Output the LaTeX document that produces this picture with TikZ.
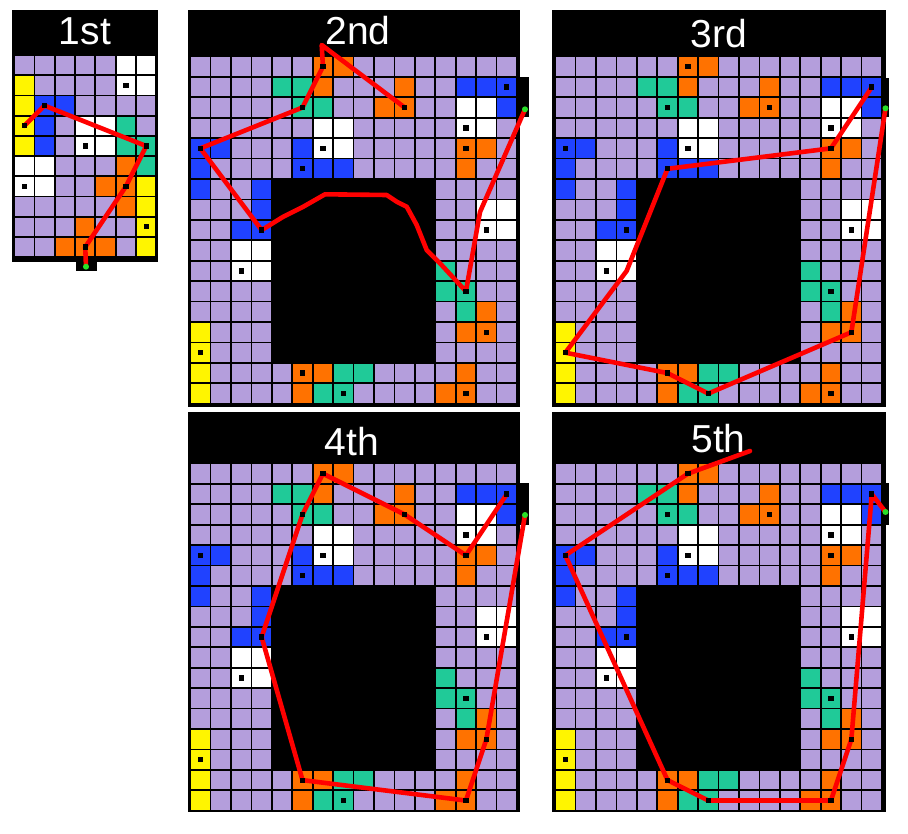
\documentclass[tikz,border=0pt]{standalone}
\usepackage{fontspec}
\setmainfont{Liberation Sans}
\definecolor{lav}{RGB}{180,158,220}
\definecolor{cblue}{RGB}{32,66,255}
\definecolor{cteal}{RGB}{32,202,152}
\definecolor{corange}{RGB}{255,114,0}
\definecolor{cyellow}{RGB}{255,245,0}
\definecolor{cgreen}{RGB}{40,222,40}
\definecolor{cred}{RGB}{255,0,0}
\tikzset{
  route/.style={draw=cred, line width=4.6pt, line join=round, line cap=round},
  dotmark/.style={rectangle, fill=black, inner sep=0pt, minimum size=5.2pt},
  gdot/.style={circle, fill=cgreen, inner sep=0pt, minimum size=6pt},
  ptitle/.style={text=white, font=\fontsize{39}{40}\selectfont, anchor=base, inner sep=0pt},
  panelbg/.style={fill=black},
}
\def\gp{20.43}
\def\gs{18.7}
\newcommand\biggrid[3]{%
\begin{scope}[shift={(#2,#3)}]
 \foreach \r in {1,2,3,4,5,6,16,17}{\foreach \c in {1,...,16}{
   \fill[lav] ({(\c-1)*\gp},{(\r-1)*\gp}) rectangle ++(\gs,\gs);
   \coordinate (#1-\c-\r) at ({(\c-1)*\gp+\gs/2},{(\r-1)*\gp+\gs/2});
 }}
 \foreach \r in {7,...,15}{\foreach \c in {1,2,3,4,13,14,15,16}{
   \fill[lav] ({(\c-1)*\gp},{(\r-1)*\gp}) rectangle ++(\gs,\gs);
   \coordinate (#1-\c-\r) at ({(\c-1)*\gp+\gs/2},{(\r-1)*\gp+\gs/2});
 }}
 \foreach \c/\r/\k in {
   7/1/corange,8/1/corange,7/2/corange,11/2/corange,10/3/corange,11/3/corange,
   14/5/corange,15/5/corange,14/6/corange,15/13/corange,14/14/corange,15/14/corange,
   6/16/corange,7/16/corange,14/16/corange,6/17/corange,13/17/corange,14/17/corange,
   5/2/cteal,6/2/cteal,6/3/cteal,7/3/cteal,13/11/cteal,13/12/cteal,14/12/cteal,
   14/13/cteal,8/16/cteal,9/16/cteal,7/17/cteal,8/17/cteal,
   14/2/cblue,15/2/cblue,16/2/cblue,16/3/cblue,1/5/cblue,2/5/cblue,6/5/cblue,
   1/6/cblue,6/6/cblue,7/6/cblue,8/6/cblue,1/7/cblue,4/7/cblue,4/8/cblue,3/9/cblue,4/9/cblue,
   14/3/white,15/3/white,7/4/white,8/4/white,14/4/white,15/4/white,7/5/white,8/5/white,
   15/8/white,16/8/white,15/9/white,16/9/white,3/10/white,4/10/white,3/11/white,4/11/white,
   1/14/cyellow,1/15/cyellow,1/16/cyellow,1/17/cyellow}
   \fill[\k] ({(\c-1)*\gp},{(\r-1)*\gp}) rectangle ++(\gs,\gs);
\end{scope}}
\newcommand\bigdots[1]{%
 \foreach \c/\r in {7/1,16/2,6/3,11/3,14/4,1/5,7/5,14/5,6/6,4/9,15/9,3/11,14/12,15/14,1/15,6/16,8/17,14/17}
   \node[dotmark] (#1d-\c-\r) at (#1-\c-\r) {};
}
\begin{document}
\begin{tikzpicture}[x=1pt,y=-1pt]
\useasboundingbox (0,0) rectangle (908,834);
% ---------- panel frames ----------
\fill[panelbg] (11.7,10) rectangle (158.3,261.7);
\fill[panelbg] (76,261) rectangle (97,271);
\fill[panelbg] (188.3,10) rectangle (520,407);
\fill[panelbg] (519,76.7) rectangle (529.3,117.3);
\fill[panelbg] (552.3,10) rectangle (886,406.5);
\fill[panelbg] (885,78) rectangle (888.5,117);
\fill[panelbg] (188.3,411.7) rectangle (520,812);
\fill[panelbg] (519,483) rectangle (529.3,525);
\fill[panelbg] (552.3,412.3) rectangle (886,812);
\fill[panelbg] (885,483) rectangle (888.5,525);
% ---------- titles ----------
\node[ptitle] (t1) at (85,45) {1st};
\node[ptitle] (t2) at (358,45) {2nd};
\node[ptitle] (t3) at (719,47.5) {3rd};
\node[ptitle] (t4) at (352,455) {4th};
\node[ptitle] (t5) at (718.5,452.5) {5th};
% ---------- panel 1 grid ----------
\begin{scope}[shift={(15,56)}]
 \foreach \r in {1,...,10}{\foreach \c in {1,...,7}{
   \fill[lav] ({(\c-1)*20.33},{(\r-1)*20.2}) rectangle ++(18.5,18.5);
   \coordinate (a-\c-\r) at ({(\c-1)*20.33+9.25},{(\r-1)*20.2+9.25});
 }}
 \foreach \c/\r/\k in {
   6/1/white,7/1/white,6/2/white,7/2/white,4/4/white,5/4/white,4/5/white,5/5/white,
   1/6/white,2/6/white,1/7/white,2/7/white,
   1/2/cyellow,1/3/cyellow,1/4/cyellow,1/5/cyellow,7/7/cyellow,7/8/cyellow,7/9/cyellow,7/10/cyellow,
   2/3/cblue,3/3/cblue,2/4/cblue,2/5/cblue,
   6/4/cteal,6/5/cteal,7/5/cteal,7/6/cteal,
   6/6/corange,5/7/corange,6/7/corange,6/8/corange,4/9/corange,3/10/corange,4/10/corange,5/10/corange}
   \fill[\k] ({(\c-1)*20.33},{(\r-1)*20.2}) rectangle ++(18.5,18.5);
\end{scope}
% ---------- big grids ----------
\biggrid{b}{191}{57.3}
\biggrid{c}{556}{57.3}
\biggrid{d}{191}{464.3}
\biggrid{e}{556}{464.3}
% ---------- start points and free ends ----------
\coordinate (g1c) at (86,266.7);
\coordinate (g2c) at (525,109.3);
\coordinate (g3c) at (885.5,108.3);
\coordinate (g4c) at (525,515);
\coordinate (g5c) at (885.5,512);
\coordinate (tip2) at (321.7,45);
\coordinate (tip5) at (750,451);
\coordinate (bend2) at (480,212);
% ---------- routes ----------
\draw[route] (g1c) -- (a-4-10) -- (a-6-7) -- (a-7-5) -- (a-2-3) -- (a-1-4);
\draw[route] (g2c) -- (bend2) -- (b-14-12) -- (440,263.3) -- (426.7,250) -- (416.7,225)
   -- (406.7,206.7) -- (396.7,201.7) -- (386.7,195) -- (325,194.3) -- (303.3,206.7)
   -- (283.3,216.7) -- (b-4-9) -- (b-1-5) -- (b-6-3) -- (b-7-1) -- (tip2) -- (b-11-3);
\draw[route] (g3c) -- (c-15-14) -- (c-8-17) -- (c-6-16) -- (c-1-15) -- (c-4-11)
   -- (c-6-6) -- (c-14-5) -- (c-16-2);
\draw[route] (g4c) -- (d-15-14) -- (d-14-17) -- (d-6-16) -- (d-4-9) -- (d-6-3)
   -- (d-7-1) -- (d-11-3) -- (d-14-5) -- (d-16-2);
\draw[route] (g5c) -- (e-16-2) -- (e-15-14) -- (e-14-17) -- (e-8-17) -- (e-6-16)
   -- (e-1-5) -- (e-7-1) -- (tip5);
% ---------- dots ----------
\foreach \c/\r in {6/2,2/3,1/4,4/5,7/5,1/7,6/7,7/9,4/10}
  \node[dotmark] (ad-\c-\r) at (a-\c-\r) {};
\bigdots{b}
\bigdots{c}
\bigdots{d}
\bigdots{e}
\node[gdot] (g1) at (g1c) {};
\node[gdot] (g2) at (g2c) {};
\node[gdot] (g3) at (g3c) {};
\node[gdot] (g4) at (g4c) {};
\node[gdot] (g5) at (g5c) {};
\end{tikzpicture}
\end{document}
